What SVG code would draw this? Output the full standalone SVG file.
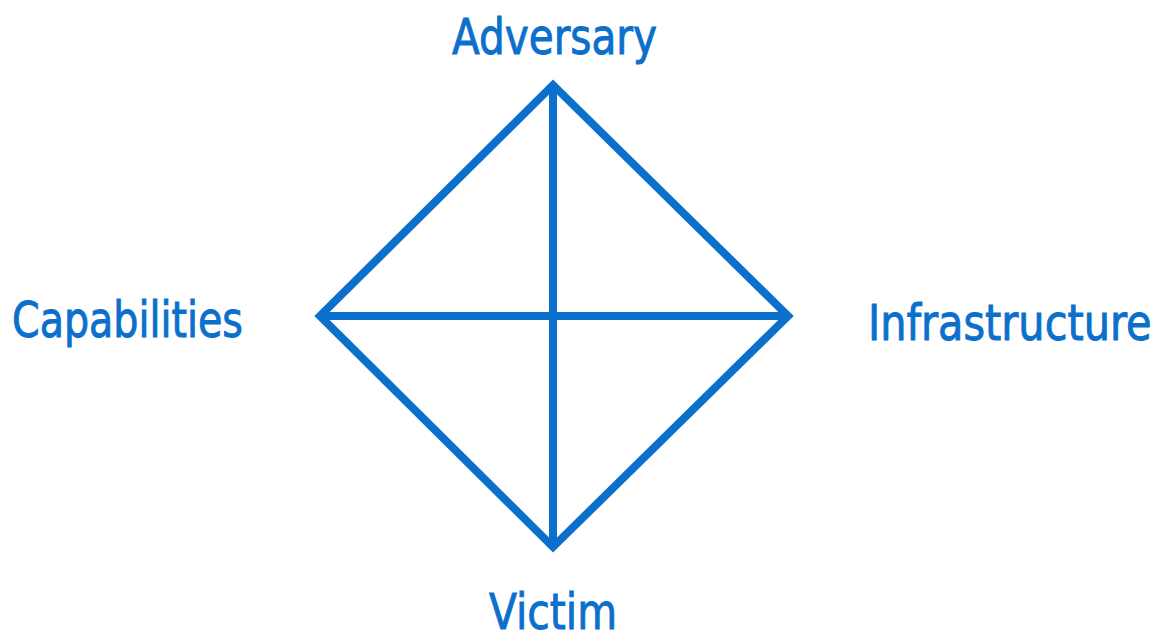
<svg xmlns="http://www.w3.org/2000/svg" width="1171" height="639" viewBox="0 0 1171 639">
<style>
.lbl{font-family:"DejaVu Sans Condensed","DejaVu Sans","Liberation Sans",sans-serif;font-stretch:condensed;font-size:50px;fill:#0b6fcc;stroke:#0b6fcc;stroke-width:0.9}
.edge{stroke:#0b6fcc;stroke-width:8;fill:none;stroke-linejoin:miter;stroke-linecap:butt}
</style>
<rect width="1171" height="639" fill="#ffffff"/>
<g id="connectors">
<polygon class="edge" points="553,85 788,316 553,547 320,316"/>
<line class="edge" x1="553" y1="85" x2="553" y2="547"/>
<line class="edge" x1="320" y1="316" x2="788" y2="316"/>
</g>
<g id="adversary"><text class="lbl" x="452" y="54" textLength="205" lengthAdjust="spacingAndGlyphs">Adversary</text></g>
<g id="capabilities"><text class="lbl" x="12" y="337" textLength="231" lengthAdjust="spacingAndGlyphs">Capabilities</text></g>
<g id="infrastructure" transform="translate(868,340) scale(0.9,1)"><text class="lbl" x="0" y="0" textLength="315" lengthAdjust="spacingAndGlyphs">Infrastructure</text></g>
<g id="victim"><text class="lbl" x="489" y="629" textLength="128" lengthAdjust="spacingAndGlyphs">Victim</text></g>
</svg>
